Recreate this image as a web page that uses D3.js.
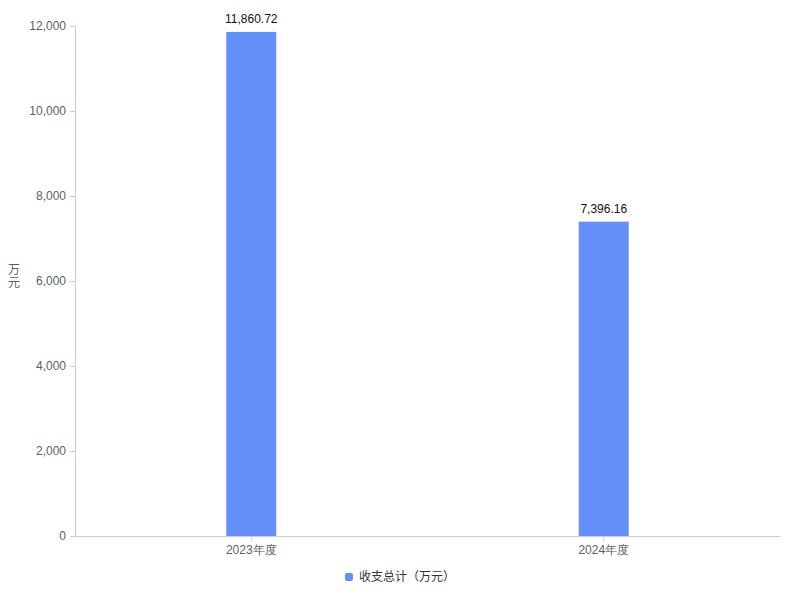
<!DOCTYPE html>
<html>
<head>
<meta charset="utf-8">
<script src="https://cdn.jsdelivr.net/npm/d3@7/dist/d3.min.js"></script>
<style>
  html, body { margin: 0; padding: 0; background: #fff; }
  svg { display: block; font-family: "Liberation Sans", Arial, "Noto Sans CJK SC", sans-serif; }
</style>
</head>
<body>
<svg id="chart" width="800" height="600"></svg>
<script>
const categories = ["2023年度", "2024年度"];
const values = [11860.72, 7396.16];
const yTicks = [0, 2000, 4000, 6000, 8000, 10000, 12000];
const seriesName = "收支总计（万元）";
const yTitle = ["万", "元"];

(function () {
const svg = d3.select("#chart");
const mLeft = 75, mRight = 780, mTop = 26, mBottom = 536;
const barColor = "#6690f9";
const axisColor = "#cccccc";
const labelColor = "#595f6b";

const x = d3.scaleBand().domain(categories).range([mLeft, mRight]).padding(0);
const y = d3.scaleLinear().domain([0, 12000]).range([mBottom, mTop]);

// y axis
const yAxis = d3.axisLeft(y).tickValues(yTicks).tickSize(5).tickPadding(4)
  .tickFormat(d3.format(","));
const gy = svg.append("g").attr("transform", `translate(${mLeft},0)`).call(yAxis);
gy.select(".domain").attr("stroke", axisColor);
gy.selectAll(".tick line").attr("stroke", axisColor);
gy.selectAll(".tick text").attr("fill", labelColor).attr("font-size", 12);

// x axis
const xAxis = d3.axisBottom(x).tickSize(5).tickPadding(4).tickSizeOuter(0);
const gx = svg.append("g").attr("transform", `translate(0,${mBottom})`).call(xAxis);
gx.select(".domain").attr("stroke", axisColor);
gx.selectAll(".tick line").attr("stroke", axisColor);
gx.selectAll(".tick text").attr("fill", labelColor).attr("font-size", 12);

// bars
const barW = 50;
const data = categories.map((c, i) => ({ c, v: values[i] }));
svg.append("g").selectAll("rect").data(data).join("rect")
  .attr("x", d => x(d.c) + x.bandwidth() / 2 - barW / 2)
  .attr("y", d => y(d.v))
  .attr("width", barW)
  .attr("height", d => mBottom - y(d.v))
  .attr("fill", barColor);

// value labels
svg.append("g").selectAll("text").data(data).join("text")
  .attr("x", d => x(d.c) + x.bandwidth() / 2)
  .attr("y", d => y(d.v) - 9)
  .attr("text-anchor", "middle")
  .attr("font-size", 12)
  .attr("fill", "#111")
  .text(d => d3.format(",.2f")(d.v));

// y title (vertical stacked)
svg.append("g").selectAll("text").data(yTitle).join("text")
  .attr("x", 14)
  .attr("y", (d, i) => 274 + i * 13)
  .attr("text-anchor", "middle")
  .attr("font-size", 12)
  .attr("fill", labelColor)
  .text(d => d);

// legend
const lg = svg.append("g");
lg.append("rect").attr("x", 345).attr("y", 573).attr("width", 8).attr("height", 8)
  .attr("rx", 2).attr("fill", barColor);
lg.append("text").attr("x", 359).attr("y", 581).attr("font-size", 12)
  .attr("fill", "#333").text(seriesName);
})();
</script>
</body>
</html>
